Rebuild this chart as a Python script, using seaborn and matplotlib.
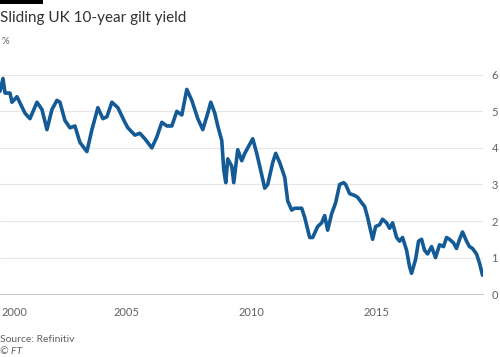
import numpy as np
import pandas as pd
import seaborn as sns
import matplotlib
matplotlib.use('Agg')
import matplotlib.pyplot as plt
from matplotlib.patches import Rectangle

sns.set_theme(style='white')
plt.rcParams['font.family'] = ['Lato', 'DejaVu Sans']

# 英国10年期国债收益率
years = [1999.92, 2000.04, 2000.12, 2000.32, 2000.40, 2000.60, 2000.92, 2001.12, 2001.40, 2001.60,
         2001.80, 2002.00, 2002.20, 2002.32, 2002.52, 2002.72, 2002.92, 2003.12, 2003.40, 2003.60,
         2003.84, 2004.04, 2004.20, 2004.40, 2004.64, 2004.92, 2005.04, 2005.32, 2005.52, 2005.72,
         2006.00, 2006.20, 2006.40, 2006.60, 2006.80, 2007.00, 2007.20, 2007.40, 2007.60, 2007.84,
         2008.04, 2008.24, 2008.36, 2008.52, 2008.64, 2008.80, 2008.88, 2008.96, 2009.04, 2009.20,
         2009.28, 2009.44, 2009.60, 2009.72, 2009.92, 2010.04, 2010.20, 2010.32, 2010.52, 2010.64,
         2010.84, 2010.96, 2011.12, 2011.32, 2011.44, 2011.60, 2011.72, 2012.00, 2012.12, 2012.32,
         2012.44, 2012.64, 2012.80, 2012.92, 2013.04, 2013.20, 2013.36, 2013.52, 2013.68, 2013.76,
         2013.92, 2014.12, 2014.24, 2014.40, 2014.52, 2014.64, 2014.84, 2014.96, 2015.12, 2015.24,
         2015.40, 2015.52, 2015.64, 2015.80, 2015.92, 2016.04, 2016.20, 2016.32, 2016.40, 2016.56,
         2016.68, 2016.80, 2016.92, 2017.04, 2017.20, 2017.36, 2017.52, 2017.68, 2017.80, 2017.92,
         2018.08, 2018.20, 2018.32, 2018.44, 2018.60, 2018.72, 2018.84, 2019.00, 2019.12, 2019.24]
yields = [5.55, 5.9, 5.5, 5.5, 5.25, 5.4, 4.95, 4.8, 5.25, 5.05,
          4.5, 5.05, 5.3, 5.25, 4.75, 4.55, 4.6, 4.15, 3.9, 4.5,
          5.1, 4.8, 4.85, 5.25, 5.1, 4.7, 4.55, 4.35, 4.4, 4.25,
          4.0, 4.3, 4.7, 4.6, 4.6, 5.0, 4.9, 5.6, 5.3, 4.8,
          4.5, 4.95, 5.25, 4.95, 4.6, 4.2, 3.4, 3.05, 3.7, 3.5,
          3.05, 3.95, 3.65, 3.85, 4.1, 4.25, 3.85, 3.5, 2.9, 3.0,
          3.6, 3.85, 3.6, 3.2, 2.55, 2.3, 2.35, 2.35, 2.1, 1.55,
          1.55, 1.85, 1.95, 2.15, 1.75, 2.2, 2.5, 3.0, 3.05, 3.0,
          2.75, 2.7, 2.65, 2.5, 2.4, 2.1, 1.5, 1.85, 1.9, 2.05,
          1.95, 1.8, 1.95, 1.55, 1.45, 1.55, 1.2, 0.75, 0.57, 0.95,
          1.45, 1.5, 1.2, 1.1, 1.3, 1.0, 1.35, 1.3, 1.55, 1.5,
          1.4, 1.25, 1.5, 1.7, 1.45, 1.3, 1.25, 1.1, 0.85, 0.52]
yticks = [0, 1, 2, 3, 4, 5, 6]
xlabels = [2000, 2005, 2010, 2015]

df = pd.DataFrame({'year': years, 'yield': yields})

grey = '#66605C'
fig = plt.figure(figsize=(5, 3.57), dpi=100)
fig.patch.set_facecolor('white')
ax = fig.add_axes([0.0, 0.176, 0.966, 0.634])

sns.lineplot(data=df, x='year', y='yield', ax=ax, color='#135A96', linewidth=2.6)

ax.set_xlim(1999.92, 2019.26)
ax.set_ylim(0, 6.19)
ax.set_xlabel('')
ax.set_ylabel('')

ax.yaxis.tick_right()
ax.set_yticks(yticks)
ax.set_yticklabels([str(t) for t in yticks])
ax.tick_params(axis='y', length=0, pad=6, labelsize=8, labelcolor=grey)
ax.grid(axis='y', color='#E6E6E6', linewidth=0.8)
ax.set_axisbelow(True)

ax.set_xticks(list(range(2000, 2020)))
ax.set_xticklabels([str(y) if y in xlabels else '' for y in range(2000, 2020)])
ax.tick_params(axis='x', length=6, width=0.8, color='#D9D9D9', labelsize=8,
               labelcolor=grey, pad=3)
ax.get_xticklabels()[0].set_ha('left')

for s in ['top', 'left', 'right']:
    ax.spines[s].set_visible(False)
ax.spines['bottom'].set_color('#CCCCCC')
ax.spines['bottom'].set_linewidth(0.8)

fig.patches.append(Rectangle((0, 1 - 4 / 357), 43 / 500, 4 / 357, transform=fig.transFigure,
                             facecolor='black', edgecolor='none'))
fig.text(0.0, 1 - 18 / 357, 'Sliding UK 10-year gilt yield', fontsize=11, color='#33302E',
         va='center', ha='left')
fig.text(0.004, 1 - 41 / 357, '%', fontsize=7, color=grey, va='center', ha='left')
fig.text(0.0, 1 - 339 / 357, 'Source: Refinitiv', fontsize=7.5, color=grey, va='center', ha='left')
fig.text(0.0, 1 - 351 / 357, '© FT', fontsize=7.5, color=grey, style='italic', va='center', ha='left')

plt.savefig('out.png', dpi=100)
